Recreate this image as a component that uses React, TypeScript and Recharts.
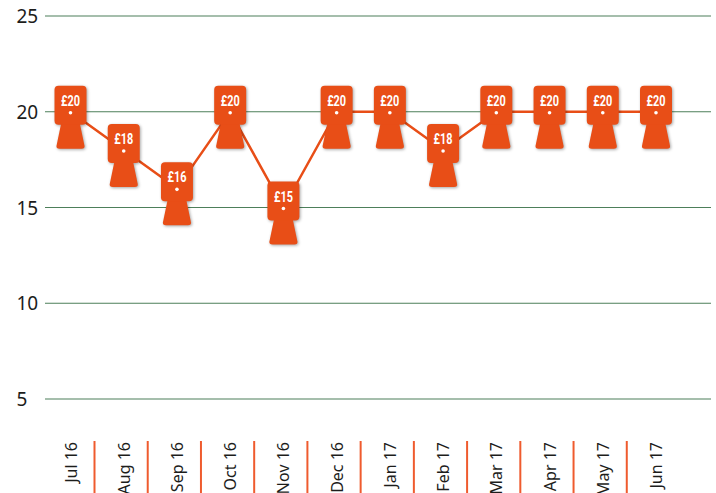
// App.tsx
import React from 'react';
import { LineChart, Line, XAxis, YAxis, CartesianGrid } from 'recharts';

const months = ['Jul 16', 'Aug 16', 'Sep 16', 'Oct 16', 'Nov 16', 'Dec 16', 'Jan 17', 'Feb 17', 'Mar 17', 'Apr 17', 'May 17', 'Jun 17'];
const prices = [20, 18, 16, 20, 15, 20, 20, 18, 20, 20, 20, 20];
const yTicks = [5, 10, 15, 20, 25];

const data = months.map((month, i) => ({ month, price: prices[i] }));

const ORANGE = '#E84E17';
const FONT = '"Noto Sans", sans-serif';

const YTick = ({ y, payload }: any) => (
  <text x={16.5} y={y} dy={7} fontFamily={FONT} fontSize={19} fill="#1d1d1b">
    {payload.value}
  </text>
);

const MonthTick = ({ x, y, payload, index }: any) => (
  <g>
    <text
      transform={`translate(${x + 6},${y + 35}) rotate(-90)`}
      textAnchor="end"
      fontFamily={FONT}
      fontSize={16}
      fill="#1d1d1b"
    >
      {payload.value}
    </text>
    {index < months.length - 1 && (
      <line x1={x + 24} x2={x + 24} y1={y + 34} y2={y + 90} stroke="#EF5B2E" strokeWidth={2} />
    )}
  </g>
);

// price tag marker, the white hole sits on the data point
const PriceTag = ({ cx, cy, value, index }: any) => (
  <g key={index}>
    <g style={{ filter: 'drop-shadow(1px 1px 1.5px rgba(0,0,0,0.35))' }}>
      <path
        d={`M${cx - 9} ${cy + 10} L${cx + 9} ${cy + 10} L${cx + 14} ${cy + 34} Q${cx + 14.5} ${cy + 37} ${cx + 11} ${cy + 37} L${cx - 11} ${cy + 37} Q${cx - 14.5} ${cy + 37} ${cx - 14} ${cy + 34} Z`}
        fill={ORANGE}
      />
      <rect x={cx - 16} y={cy - 26} width={32} height={39} rx={4} fill={ORANGE} />
    </g>
    <text
      x={cx}
      y={cy - 6}
      textAnchor="middle"
      textLength={19}
      lengthAdjust="spacingAndGlyphs"
      fontFamily="Roboto, sans-serif"
      fontWeight={700}
      fontSize={15}
      fill="#fff"
    >
      {`£${value}`}
    </text>
    <circle cx={cx} cy={cy + 1} r={1.8} fill="#fff" />
  </g>
);

export default function App() {
  return (
    <div style={{ position: 'absolute', left: 0, top: 0, width: 716, height: 493, overflow: 'hidden', background: '#fff' }}>
      <LineChart width={716} height={493} data={data} margin={{ top: 16, right: 5, bottom: 0, left: 0 }}>
        <CartesianGrid vertical={false} stroke="#4D7F5A" strokeWidth={1.2} />
        <XAxis
          dataKey="month"
          scale="point"
          padding={{ left: 25.5, right: 55 }}
          interval={0}
          height={94}
          axisLine={false}
          tickLine={false}
          tick={<MonthTick />}
        />
        <YAxis
          domain={[5, 25]}
          ticks={yTicks}
          width={45}
          axisLine={false}
          tickLine={false}
          tick={<YTick />}
        />
        <Line
          dataKey="price"
          type="linear"
          stroke={ORANGE}
          strokeWidth={2.5}
          dot={(props: any) => <PriceTag {...props} />}
          activeDot={false}
          isAnimationActive={false}
        />
      </LineChart>
    </div>
  );
}
